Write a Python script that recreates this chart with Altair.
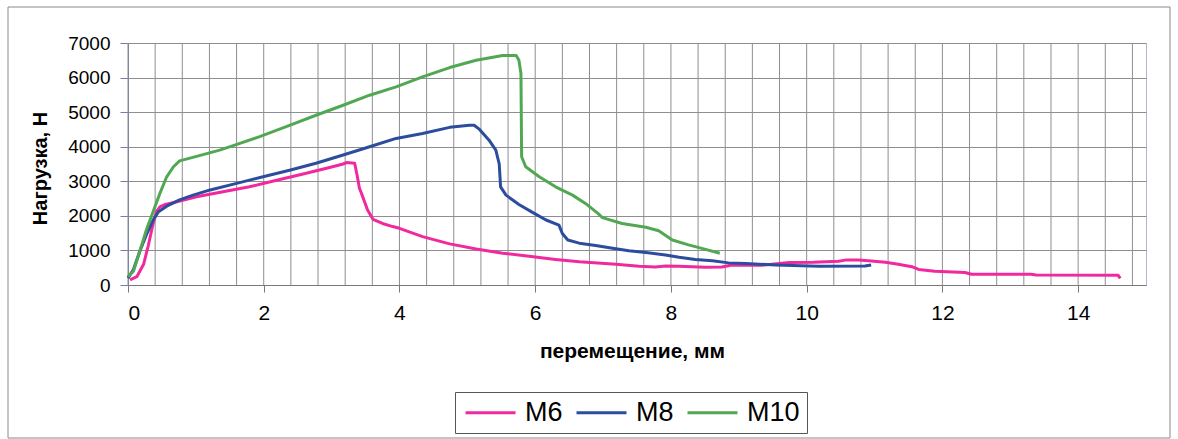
import altair as alt
import pandas as pd

# Load–displacement curves for three bolt sizes
m6_x = [0.03, 0.13, 0.23, 0.30, 0.37, 0.42, 0.47, 0.55, 0.72, 1.01, 1.40, 1.79, 2.19, 2.58,
        2.97, 3.17, 3.22, 3.34, 3.38, 3.41, 3.44, 3.53, 3.61, 3.75, 3.90, 4.00, 4.34, 4.74,
        5.13, 5.52, 5.91, 6.30, 6.65, 7.19, 7.53, 7.77, 7.92, 8.12, 8.51, 8.75, 8.90, 9.34,
        9.74, 10.10, 10.47, 10.57, 10.76, 10.91, 11.16, 11.35, 11.55, 11.65, 11.89, 12.33,
        12.43, 13.31, 13.38, 14.59, 14.62]
m6_y = [150, 240, 600, 1150, 1780, 2120, 2260, 2330, 2410, 2550, 2700, 2840, 3030, 3210,
        3400, 3500, 3540, 3520, 3130, 2800, 2650, 2170, 1900, 1780, 1690, 1640, 1400, 1190,
        1040, 920, 830, 740, 670, 600, 540, 520, 550, 540, 510, 520, 580, 570,
        650, 660, 690, 720, 720, 700, 660, 600, 530, 450, 400, 360,
        310, 310, 290, 280, 190]

m8_x = [0.00, 0.08, 0.18, 0.27, 0.37, 0.45, 0.57, 0.76, 0.96, 1.21, 1.60, 1.99, 2.38, 2.77,
        3.17, 3.56, 3.95, 4.34, 4.74, 5.03, 5.10, 5.18, 5.32, 5.42, 5.47, 5.49, 5.57, 5.76,
        5.96, 6.16, 6.35, 6.40, 6.48, 6.65, 6.89, 7.14, 7.38, 7.63, 7.92, 8.12, 8.36, 8.61,
        8.85, 9.10, 9.54, 10.18, 10.86, 10.95]
m8_y = [200, 450, 1010, 1450, 1880, 2120, 2280, 2460, 2600, 2750, 2940, 3130, 3320, 3520,
        3760, 4000, 4240, 4380, 4560, 4620, 4620, 4500, 4190, 3900, 3500, 2840, 2600, 2330,
        2100, 1880, 1730, 1490, 1300, 1210, 1140, 1060, 990, 940, 870, 800, 740, 700,
        640, 620, 580, 540, 550, 580]

m10_x = [0.00, 0.08, 0.18, 0.27, 0.37, 0.47, 0.57, 0.67, 0.76, 1.01, 1.35, 1.55, 1.94, 2.38,
         2.77, 3.17, 3.56, 3.95, 4.34, 4.74, 5.13, 5.52, 5.72, 5.76, 5.79, 5.80, 5.86, 6.06,
         6.30, 6.55, 6.74, 6.92, 6.99, 7.28, 7.63, 7.82, 8.02, 8.26, 8.51, 8.72]
m10_y = [240, 400, 1010, 1590, 2120, 2650, 3130, 3420, 3590, 3720, 3900, 4030, 4290, 4620,
         4910, 5200, 5490, 5730, 6020, 6290, 6500, 6640, 6640, 6500, 6120, 3710, 3420, 3130,
         2840, 2600, 2360, 2080, 1950, 1780, 1670, 1570, 1300, 1160, 1030, 920]

series_names = ["M6", "M8", "M10"]
series_colors = ["#F02A9E", "#2C4C9E", "#52A852"]

x_ticks = [0, 2, 4, 6, 8, 10, 12, 14]
y_ticks = [0, 1000, 2000, 3000, 4000, 5000, 6000, 7000]
# minor vertical grid every 0.4 mm
x_grid = [round(0.4 * k, 1) for k in range(38)]

rows = []
for name, xs, ys in zip(series_names, [m6_x, m8_x, m10_x], [m6_y, m8_y, m10_y]):
    for i, (xv, yv) in enumerate(zip(xs, ys)):
        rows.append({"series": name, "x": xv, "y": yv, "i": i})
df = pd.DataFrame(rows)

GRID = "#8E8E92"

x_enc = alt.X(
    "x:Q",
    scale=alt.Scale(domain=[0, 15], nice=False, zero=False),
    axis=alt.Axis(
        values=x_ticks, grid=False, tickSize=7, tickColor="#7A7A7A", domainColor="#7A7A7A",
        labelFontSize=21, labelPadding=10, labelColor="black", format="d",
        title="перемещение, мм", titleFontSize=21, titleFontWeight="bold", titleColor="black",
        titleX=504, titleY=72, titleBaseline="alphabetic",
    ),
)

grid = alt.Chart(pd.DataFrame({"x": x_grid})).mark_rule(
    color=GRID, strokeWidth=1
).encode(x=x_enc)

lines = alt.Chart(df).mark_line(strokeWidth=3, strokeJoin="round").encode(
    x=x_enc,
    y=alt.Y(
        "y:Q",
        scale=alt.Scale(domain=[0, 7000], nice=False),
        axis=alt.Axis(
            values=y_ticks, grid=True, gridColor=GRID, gridWidth=1, format="d",
            tickSize=8, tickColor="#7080A8", domainColor="#7080A8",
            labelFontSize=19, labelPadding=10, labelColor="black",
            title="Нагрузка, Н", titleFontSize=20, titleFontWeight="bold", titleColor="black",
            titleX=-78, titleY=125, titleBaseline="bottom",
        ),
    ),
    color=alt.Color(
        "series:N",
        scale=alt.Scale(domain=series_names, range=series_colors),
        legend=alt.Legend(
            title=None, orient="none", legendX=327, legendY=349, direction="horizontal",
            symbolType="M-2.5,0L2.5,0", symbolSize=400, symbolStrokeWidth=3,
            symbolOffset=15,
            labelFontSize=27, labelColor="black", labelOffset=21, columnPadding=7,
            strokeColor="#555555", padding=7,
        ),
    ),
    order="i:Q",
)

# outer frame of the whole chart
frame = alt.Chart(alt.Data(values=[{}])).mark_rect(
    fillOpacity=0, stroke="#8A8A8A", strokeWidth=1
).encode(
    x=alt.value(-120), x2=alt.value(1042), y=alt.value(-36), y2=alt.value(395)
)

chart = alt.layer(grid, lines, frame).properties(
    width=1018,
    height=242,
    padding={"left": 128, "top": 43, "right": 32, "bottom": 154},
    autosize=alt.AutoSizeParams(type="none"),
    background="white",
).configure(
    font="Liberation Sans"
).configure_view(
    stroke="#B0B6CC", strokeWidth=1
)

chart.save("out.html", embed_options={"renderer": "svg", "actions": False})
